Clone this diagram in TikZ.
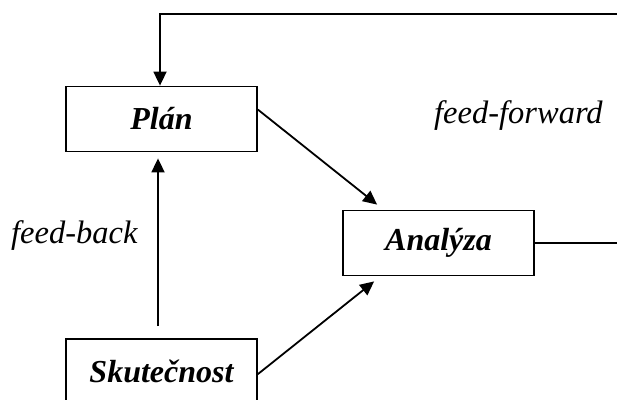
\documentclass[tikz,border=0pt]{standalone}
\usepackage{fontspec}
\setmainfont{Liberation Serif}
\usetikzlibrary{arrows.meta}
\begin{document}
\begin{tikzpicture}[x=1pt,y=-1pt,
  box/.style={draw,line width=1.8pt,minimum width=191pt,minimum height=65pt,inner sep=0pt,
    font=\fontsize{32}{36}\selectfont\bfseries\itshape},
  conn/.style={line width=1.8pt},
  arr/.style={conn,-{Triangle[length=14pt,width=13pt]}},
  lbl/.style={font=\fontsize{32.5}{36}\selectfont\itshape,inner sep=0pt,anchor=base west}]
\useasboundingbox (0,0) rectangle (617,399);
\node[box] (plan) at (161.5,119) {Plán};
\node[box] (ana) at (438.5,243) {Analýza};
\node[box] (skut) at (161.5,371.5) {Skutečnost};
\coordinate (topright) at (617,14);
\coordinate (midright) at (617,243);
\node[lbl] (ff) at (434,123) {feed-forward};
\node[lbl] (fb) at (11,243) {feed-back};
% feed-forward loop back to the plan
\draw[arr] (topright) -| ([xshift=-1.5pt]plan.north);
\draw[conn] (ana.east) -- (midright);
% inputs into the analysis
\draw[arr] ([yshift=-24pt]plan.north east) -- ([xshift=35pt,yshift=5pt]ana.north west);
\draw[arr] ([yshift=-36pt]skut.north east) -- ([xshift=32pt,yshift=-5pt]ana.south west);
% feed-back from reality to the plan
\draw[arr] ([xshift=-3.5pt,yshift=12pt]skut.north) -- ([xshift=-3.5pt,yshift=-6pt]plan.south);
\end{tikzpicture}
\end{document}
